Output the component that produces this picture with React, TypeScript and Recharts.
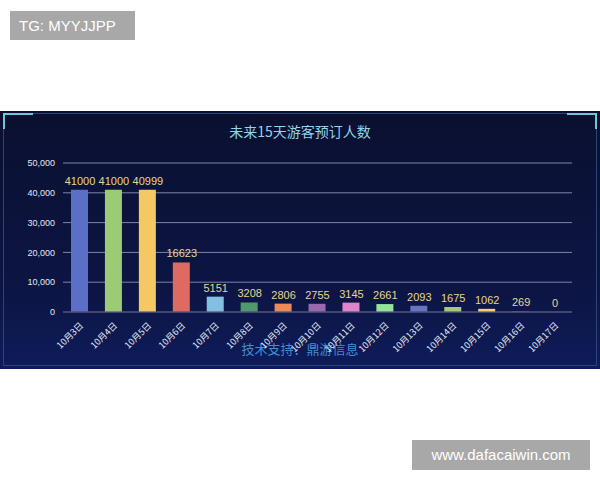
import React from 'react';
import { ComposedChart, Bar, Line, XAxis, YAxis, CartesianGrid, Cell, LabelList } from 'recharts';

const days = ['10月3日', '10月4日', '10月5日', '10月6日', '10月7日', '10月8日', '10月9日', '10月10日', '10月11日', '10月12日', '10月13日', '10月14日', '10月15日', '10月16日', '10月17日'];
const bookings = [41000, 41000, 40999, 16623, 5151, 3208, 2806, 2755, 3145, 2661, 2093, 1675, 1062, 269, 0];
const barColors = ['#5b6fc6', '#9ccb76', '#f4c862', '#df6a62', '#84bfe2', '#4e9a6c', '#ec8a58', '#9a68ae', '#df86cb', '#92e596', '#6674c2', '#a6c878', '#f3d183', '#b05a6a', '#5b6fc6'];
const yTicks = [0, 10000, 20000, 30000, 40000, 50000];

const data = days.map((d, i) => ({ day: d, value: bookings[i] }));

const DayTick = (props: any) => {
  const { x, y, payload } = props;
  return (
    <text x={x + 4} y={y + 6} transform={`rotate(-45, ${x + 4}, ${y + 6})`} textAnchor="end" fill="#e6e8f0" fontSize={9} fontFamily='"Noto Sans CJK SC", sans-serif'>
      {payload.value}
    </text>
  );
};

// labels hang off an invisible line so the 0 bar gets one too
const ValueLabel = (props: any) => {
  const { x, y, value } = props;
  return (
    <text x={x} y={y - 5} textAnchor="middle" fill="#e8d68e" fontSize={11} fontFamily='"Liberation Sans", Arial, sans-serif'>
      {value}
    </text>
  );
};

export default function App() {
  return (
    <div style={{ position: 'fixed', left: 0, top: 0, width: 600, height: 480, background: '#ffffff', fontFamily: '"Noto Sans CJK SC", "Liberation Sans", sans-serif', overflow: 'hidden' }}>
      <div style={{ position: 'absolute', left: 10, top: 11, width: 125, height: 29, background: '#a8a8a8', color: '#ffffff', fontSize: 15, lineHeight: '29px', paddingLeft: 9, boxSizing: 'border-box', fontFamily: '"Liberation Sans", sans-serif' }}>
        TG: MYYJJPP
      </div>
      <div style={{ position: 'absolute', left: 412, top: 440, width: 178, height: 30, background: '#a8a8a8', color: '#ffffff', fontSize: 15, lineHeight: '30px', textAlign: 'center', fontFamily: '"Liberation Sans", sans-serif' }}>
        www.dafacaiwin.com
      </div>
      <div style={{ position: 'absolute', left: 0, top: 111, width: 600, height: 258, background: 'linear-gradient(180deg, #0b1030 0%, #0c1544 70%, #0e1c5a 100%)' }}>
        <div style={{ position: 'absolute', left: 3, top: 2, right: 3, bottom: 3, border: '1px solid #2b4577' }} />
        <div style={{ position: 'absolute', left: 3, top: 2, width: 28, height: 14, borderLeft: '2px solid #6fc6d8', borderTop: '2px solid #6fc6d8' }} />
        <div style={{ position: 'absolute', right: 3, top: 2, width: 28, height: 14, borderRight: '2px solid #6fc6d8', borderTop: '2px solid #6fc6d8' }} />
        <div style={{ position: 'absolute', left: 0, top: 10, width: 600, textAlign: 'center', color: '#8fd6ea', fontSize: 14 }}>
          未来15天游客预订人数
        </div>
        <div style={{ position: 'absolute', left: 0, top: 228, width: 600, textAlign: 'center', color: '#3f8fd6', fontSize: 13 }}>
          技术支持：鼎游信息
        </div>
        <div style={{ position: 'absolute', left: 0, top: 0 }}>
          <ComposedChart width={600} height={258} data={data} margin={{ top: 52, right: 28, left: 0, bottom: 0 }}>
            <CartesianGrid vertical={false} stroke="#7c86a8" strokeWidth={1} />
            <XAxis dataKey="day" interval={0} height={57} tick={<DayTick />} tickLine={false} axisLine={{ stroke: '#3a4060' }} />
            <YAxis width={63} domain={[0, 50000]} ticks={yTicks} tickFormatter={(v: number) => v.toLocaleString('en-US')} tick={{ fill: '#e6e8f0', fontSize: 9, fontFamily: '"Liberation Sans", Arial, sans-serif' }} tickLine={false} axisLine={false} />
            <Bar dataKey="value" barSize={17} isAnimationActive={false}>
              {data.map((_, i) => (
                <Cell key={i} fill={barColors[i]} />
              ))}
            </Bar>
            <Line dataKey="value" stroke="none" dot={false} activeDot={false} isAnimationActive={false}>
              <LabelList dataKey="value" content={<ValueLabel />} />
            </Line>
          </ComposedChart>
        </div>
      </div>
    </div>
  );
}
